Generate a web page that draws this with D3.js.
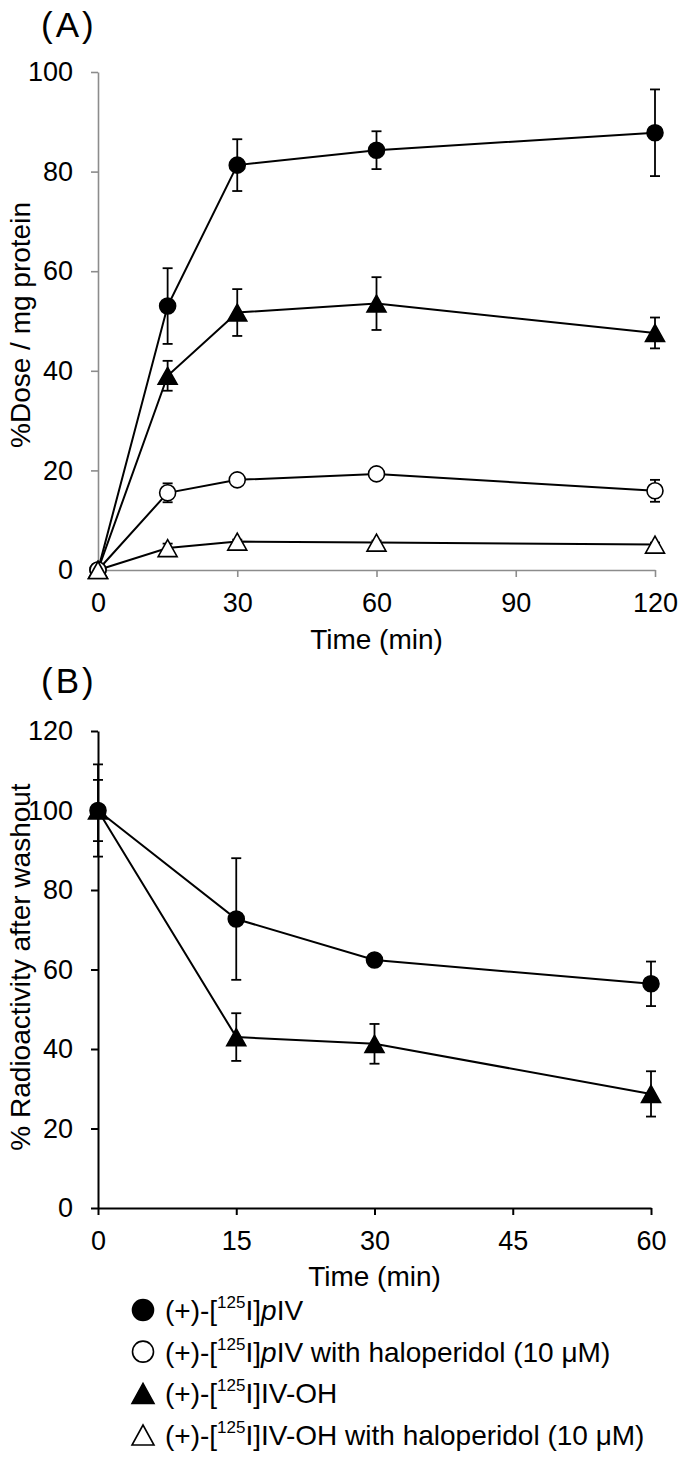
<!DOCTYPE html>
<html><head><meta charset="utf-8">
<script src="https://cdn.jsdelivr.net/npm/d3@7"></script>
<style>
body{margin:0;background:#fff}
svg{display:block}
text{font-family:"Liberation Sans",Arial,sans-serif;fill:#000}
</style>
</head><body>
<svg id="c" width="685" height="1459"></svg>
<script>
// ---------- data ----------
const timesA = [0, 15, 30, 60, 120];
const pIV_A = [0, 53.0, 81.3, 84.3, 87.8];
const pIV_A_sd = [0, 7.6, 5.2, 3.8, 8.7];
const pIVHalo_A = [0, 15.5, 18.1, 19.3, 15.9];
const pIVHalo_A_sd = [0, 1.9, 1.0, 0.5, 2.2];
const IVOH_A = [0, 39.0, 51.7, 53.5, 47.6];
const IVOH_A_sd = [0, 3.0, 4.7, 5.3, 3.1];
const IVOHHalo_A = [0, 4.4, 5.7, 5.5, 5.1];
const IVOHHalo_A_sd = [0, 0.9, 0.4, 0.4, 0.4];

const timesB = [0, 15, 30, 60];
const pIV_B = [100, 72.7, 62.4, 56.4];
const pIV_B_sd = [11.6, 15.3, 0.8, 5.6];
const IVOH_B = [100, 43.0, 41.3, 28.7];
const IVOH_B_sd = [7.7, 6.0, 5.0, 5.7];

const ticksAx = [0, 30, 60, 90, 120];
const ticksAy = [0, 20, 40, 60, 80, 100];
const ticksBx = [0, 15, 30, 45, 60];
const ticksBy = [0, 20, 40, 60, 80, 100, 120];

const titleA = "(A)", titleB = "(B)";
const xTitle = "Time (min)";
const yTitleA = "%Dose / mg protein";
const yTitleB = "% Radioactivity after washout";

// legend labels: [pre, sup, post, italic, tail]
const legendLabels = [
  ["(+)-[", "125", "I]", "p", "IV"],
  ["(+)-[", "125", "I]", "p", "IV with haloperidol (10 \u03bcM)"],
  ["(+)-[", "125", "I]IV-OH", "", ""],
  ["(+)-[", "125", "I]IV-OH with haloperidol (10 \u03bcM)", "", ""]
];
const legendShapes = [["circle", true], ["circle", false], ["triangle", true], ["triangle", false]];

// ---------- drawing ----------
const svg = d3.select("#c");

function triPath(cx, cy, w, h) {
  return `M${cx - w / 2},${cy + h / 2}L${cx + w / 2},${cy + h / 2}L${cx},${cy - h / 2}Z`;
}

function drawMarker(g, shape, filled, cx, cy, big) {
  if (shape === "circle") {
    g.append("circle").attr("cx", cx).attr("cy", cy).attr("r", big ? 10.5 : 8)
      .attr("fill", filled ? "#000" : "#fff").attr("stroke", "#000").attr("stroke-width", 1.6);
  } else {
    const w = big ? 22 : 19, h = big ? 20 : 17;
    g.append("path").attr("d", triPath(cx, cy, w, h))
      .attr("fill", filled ? "#000" : "#fff").attr("stroke", "#000").attr("stroke-width", 1.6)
      .attr("stroke-linejoin", "miter");
  }
}

function drawPanel(cfg) {
  const g = svg.append("g");
  const x = d3.scaleLinear().domain(cfg.xDomain).range(cfg.xRange);
  const y = d3.scaleLinear().domain(cfg.yDomain).range(cfg.yRange);

  const xAxis = g.append("g").attr("transform", `translate(0,${cfg.yRange[0]})`)
    .call(d3.axisBottom(x).tickValues(cfg.xTicks).tickSize(7).tickSizeOuter(0).tickPadding(16));
  const yAxis = g.append("g").attr("transform", `translate(${cfg.xRange[0]},0)`)
    .call(d3.axisLeft(y).tickValues(cfg.yTicks).tickSize(7).tickSizeOuter(0).tickPadding(18));
  [xAxis, yAxis].forEach(a => {
    a.select(".domain").attr("stroke", cfg.axisColor).attr("stroke-width", cfg.axisWidth);
    a.selectAll(".tick line").attr("stroke", cfg.axisColor).attr("stroke-width", cfg.axisWidth);
    a.selectAll(".tick text").attr("font-size", 27).attr("font-family", '"Liberation Sans",Arial,sans-serif').attr("fill", "#000");
  });

  const line = d3.line().x(d => x(d.t)).y(d => y(d.v));
  cfg.series.forEach(s => {
    const pts = cfg.times.map((t, i) => ({ t, v: s.values[i], e: s.sd[i] }));
    g.append("path").datum(pts).attr("d", line).attr("fill", "none")
      .attr("stroke", "#000").attr("stroke-width", 2);
  });
  cfg.series.forEach(s => {
    const pts = cfg.times.map((t, i) => ({ t, v: s.values[i], e: s.sd[i] }));
    pts.forEach(p => {
      if (p.e > 0) {
        const cx = x(p.t), y1 = y(p.v + p.e), y2 = y(p.v - p.e);
        g.append("line").attr("x1", cx).attr("x2", cx).attr("y1", y1).attr("y2", y2)
          .attr("stroke", "#000").attr("stroke-width", 1.8);
        [y1, y2].forEach(yy => g.append("line").attr("x1", cx - 5).attr("x2", cx + 5)
          .attr("y1", yy).attr("y2", yy).attr("stroke", "#000").attr("stroke-width", 1.8));
      }
    });
    pts.forEach(p => drawMarker(g, s.shape, s.filled, x(p.t), y(p.v), false));
  });

  // titles
  g.append("text").attr("x", cfg.labelX).attr("y", cfg.labelY).attr("font-size", 35)
    .attr("letter-spacing", 3).text(cfg.label);
  g.append("text").attr("x", (cfg.xRange[0] + cfg.xRange[1]) / 2).attr("y", cfg.xTitleY)
    .attr("text-anchor", "middle").attr("font-size", 28).text(xTitle);
  g.append("text").attr("transform", `translate(${cfg.yTitleX},${cfg.yTitleCY}) rotate(-90)`)
    .attr("text-anchor", "middle").attr("font-size", 28).text(cfg.yTitle);
}

drawPanel({
  xDomain: [0, 120], xRange: [98, 655], yDomain: [0, 100], yRange: [570, 72],
  xTicks: ticksAx, yTicks: ticksAy, axisColor: "#8c8c8c", axisWidth: 1.6,
  times: timesA,
  series: [
    { values: pIV_A, sd: pIV_A_sd, shape: "circle", filled: true },
    { values: IVOH_A, sd: IVOH_A_sd, shape: "triangle", filled: true },
    { values: pIVHalo_A, sd: pIVHalo_A_sd, shape: "circle", filled: false },
    { values: IVOHHalo_A, sd: IVOHHalo_A_sd, shape: "triangle", filled: false }
  ],
  label: titleA, labelX: 41, labelY: 37, xTitleY: 649,
  yTitle: yTitleA, yTitleX: 30, yTitleCY: 325
});

drawPanel({
  xDomain: [0, 60], xRange: [98, 651], yDomain: [0, 120], yRange: [1208, 731],
  xTicks: ticksBx, yTicks: ticksBy, axisColor: "#000", axisWidth: 2,
  times: timesB,
  series: [
    { values: IVOH_B, sd: IVOH_B_sd, shape: "triangle", filled: true },
    { values: pIV_B, sd: pIV_B_sd, shape: "circle", filled: true }
  ],
  label: titleB, labelX: 41, labelY: 693, xTitleY: 1286,
  yTitle: yTitleB, yTitleX: 30, yTitleCY: 967
});

// legend
const legRowY = d3.scalePoint().domain(d3.range(legendLabels.length)).range([1310, 1435]);
const leg = svg.append("g");
legendLabels.forEach((parts, i) => {
  const cy = legRowY(i);
  drawMarker(leg, legendShapes[i][0], legendShapes[i][1], 143, cy, true);
  const t = leg.append("text").attr("x", 165).attr("y", cy + 10).attr("font-size", 28);
  t.append("tspan").text(parts[0]);
  t.append("tspan").attr("font-size", 17).attr("dy", -12).text(parts[1]);
  t.append("tspan").attr("dy", 12).text(parts[2]);
  if (parts[3]) t.append("tspan").attr("font-style", "italic").text(parts[3]);
  if (parts[4]) t.append("tspan").text(parts[4]);
});
</script>
</body></html>
